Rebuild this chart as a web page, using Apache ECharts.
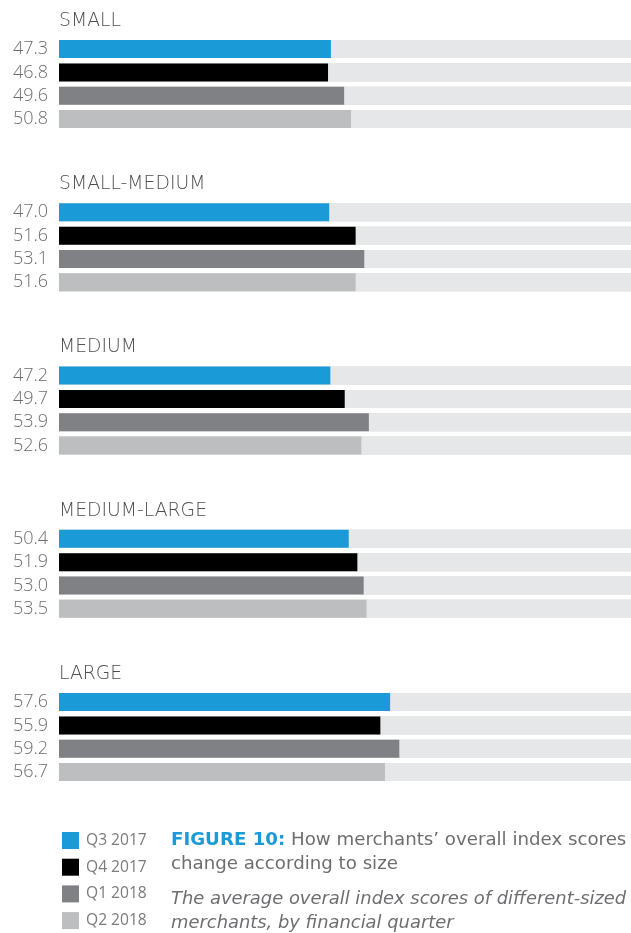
<!DOCTYPE html>
<html>
<head>
<meta charset="utf-8">
<script src="https://cdn.jsdelivr.net/npm/echarts@6/dist/echarts.min.js"></script>
<style>
html,body{margin:0;padding:0;background:#fff;}
#chart{width:631px;height:933px;}
</style>
</head>
<body>
<div id="chart"></div>
<script>
var groups = ['SMALL', 'SMALL-MEDIUM', 'MEDIUM', 'MEDIUM-LARGE', 'LARGE'];
var quarters = ['Q3 2017', 'Q4 2017', 'Q1 2018', 'Q2 2018'];
var q3_2017 = [47.3, 47.0, 47.2, 50.4, 57.6];
var q4_2017 = [46.8, 51.6, 49.7, 51.9, 55.9];
var q1_2018 = [49.6, 53.1, 53.9, 53.0, 59.2];
var q2_2018 = [50.8, 51.6, 52.6, 53.5, 56.7];
var captionLabel = 'FIGURE 10:';
var captionTitle = 'How merchants’ overall index scores\nchange according to size';
var captionSub = 'The average overall index scores of different-sized\nmerchants, by financial quarter';

var values = [q3_2017, q4_2017, q1_2018, q2_2018];
var colors = ['#1a9bd7', '#000000', '#808184', '#bcbec0'];
var textGray = '#6d6e71';
var FONT = 'Open Sans';
var WIDE = 'DejaVu Sans';

var chart = echarts.init(document.getElementById('chart'), null, {renderer: 'canvas'});

var grids = [], xAxes = [], yAxes = [], series = [], titles = [];
var pitch = 163.25;
groups.forEach(function (g, gi) {
  var top = 37.4 + gi * pitch;
  grids.push({left: 59, right: 0, top: top, height: 93.3});
  xAxes.push({type: 'value', gridIndex: gi, min: 0, max: 99.5, show: false});
  yAxes.push({type: 'category', gridIndex: gi, data: quarters, inverse: true, show: false});
  titles.push({
    text: g, left: 59, top: 21 + gi * pitch - 11, padding: 0,
    textStyle: {fontFamily: WIDE, fontSize: 18.8, fontWeight: 300, color: '#4d4e50', lineHeight: 22}
  });
  quarters.forEach(function (q, qi) {
    series.push({
      type: 'bar', name: q, xAxisIndex: gi, yAxisIndex: gi, stack: 'g' + gi,
      barWidth: 18,
      itemStyle: {color: colors[qi]},
      showBackground: true,
      backgroundStyle: {color: '#e6e7e8', opacity: 1},
      label: {
        show: true, position: 'left', distance: 11,
        fontFamily: FONT, fontSize: 18, fontWeight: 300, color: textGray,
        formatter: function (p) { return Number(p.value).toFixed(1); }
      },
      silent: true,
      data: quarters.map(function (_, k) { return k === qi ? values[qi][gi] : '-'; })
    });
  });
});

titles.push({
  text: '{b|' + captionLabel + '} ' + captionTitle,
  subtext: captionSub,
  left: 171, top: 828, padding: 0, itemGap: 11,
  textStyle: {
    fontFamily: WIDE, fontSize: 18.2, fontWeight: 'normal', color: textGray, lineHeight: 24,
    rich: {b: {fontFamily: WIDE, fontSize: 18.2, fontWeight: 'bold', color: '#1a9bd7', lineHeight: 24}}
  },
  subtextStyle: {fontFamily: WIDE, fontSize: 17.9, fontWeight: 'normal', fontStyle: 'italic', color: textGray, lineHeight: 24}
});

chart.setOption({
  animation: false,
  backgroundColor: '#ffffff',
  title: titles,
  legend: {
    data: quarters, orient: 'vertical', left: 62, top: 832, padding: 0,
    icon: 'rect', itemWidth: 17, itemHeight: 17, itemGap: 9.7,
    selectedMode: false,
    textStyle: {fontFamily: FONT, fontSize: 15.6, fontWeight: 'normal', color: '#7a7b7e', padding: [0, 0, 0, 2]}
  },
  grid: grids,
  xAxis: xAxes,
  yAxis: yAxes,
  series: series
});
</script>
</body>
</html>
